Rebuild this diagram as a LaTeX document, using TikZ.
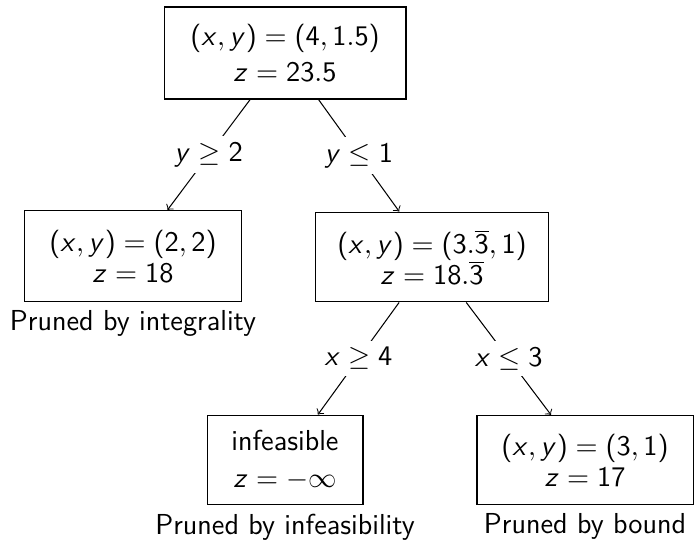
\documentclass[tikz,border=0pt]{standalone}
\DeclareSymbolFont{sfletters}{OT1}{cmss}{m}{sl}
\SetSymbolFont{operators}{normal}{OT1}{cmss}{m}{n}
\DeclareMathSymbol{x}{\mathalpha}{sfletters}{`x}
\DeclareMathSymbol{y}{\mathalpha}{sfletters}{`y}
\DeclareMathSymbol{z}{\mathalpha}{sfletters}{`z}
\begin{document}
\begin{tikzpicture}[x=0.386pt,y=-0.386pt,font=\sffamily\fontsize{11.15pt}{12pt}\selectfont,
  box/.style={draw,align=center,inner sep=0pt},
  lbl/.style={fill=white,inner sep=2.5pt},
  prn/.style={anchor=north,inner sep=0pt}]
\useasboundingbox (0,0) rectangle (694,542);
\node[box,minimum width=93.4pt,minimum height=35.5pt] (root) at (285,53) {$(x,y)=(4,1.5)$\\[1.8pt]$z=23.5$};
\node[box,minimum width=84.1pt,minimum height=35.1pt] (L) at (133,256) {$(x,y)=(2,2)$\\$z=18$};
\node[box,minimum width=90pt,minimum height=34.7pt] (R) at (432,257) {$(x,y)=(3.\overline{3},1)$\\$z=18.\overline{3}$};
\node[box,minimum width=60.2pt,minimum height=34.7pt] (RL) at (285,460) {infeasible\\[2.4pt]$z=-\infty$};
\node[box,minimum width=83.4pt,minimum height=34.4pt] (RR) at (585,460) {$(x,y)=(3,1)$\\$z=17$};
\node[prn] (pL) at ([yshift=-3pt]L.south) {Pruned by integrality};
\node[prn] (pRL) at ([yshift=-3pt]RL.south) {Pruned by infeasibility};
\node[prn] (pRR) at ([yshift=-3pt]RR.south) {Pruned by bound};
\draw[->] (root) -- node[lbl] (eL) {$y\geq 2$} (L);
\draw[->] (root) -- node[lbl] (eR) {$y\leq 1$} (R);
\draw[->] (R) -- node[lbl] (eRL) {$x\geq 4$} (RL);
\draw[->] (R) -- node[lbl] (eRR) {$x\leq 3$} (RR);
\end{tikzpicture}
\end{document}
